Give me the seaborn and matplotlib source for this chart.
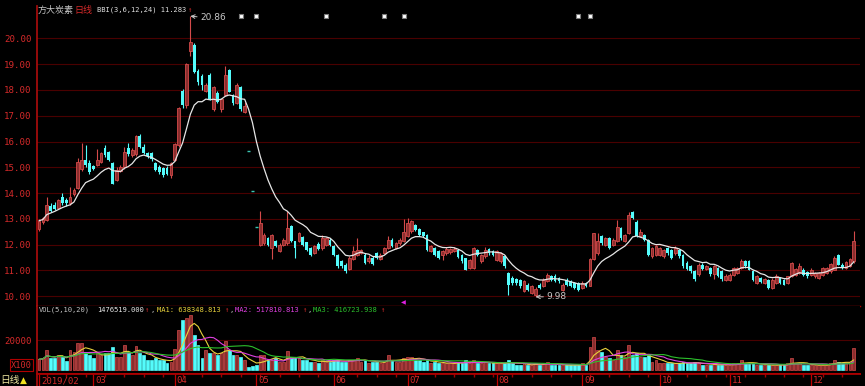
import numpy as np
import pandas as pd
import matplotlib
matplotlib.use('Agg')
import matplotlib.pyplot as plt
import seaborn as sns

# daily candles 2019/02 .. 2019/12
opens = [12.62, 12.88, 12.95, 13.50, 13.55, 13.42, 13.85, 13.72, 13.60, 13.95,
         14.20, 14.95, 15.28, 15.15, 15.05, 15.08, 15.20, 15.75, 15.60, 15.15,
         14.50, 14.85, 15.00, 15.75, 15.48, 15.50, 16.22, 15.80, 15.55, 15.55,
         15.15, 15.00, 14.98, 14.98, 14.70, 15.30, 15.85, 17.95, 17.40, 19.50,
         19.75, 18.75, 18.55, 17.95, 18.58, 17.25, 17.87, 17.25, 17.80, 18.77,
         17.80, 17.50, 18.12, 17.15, 15.64, 14.08, 12.67, 12.00, 12.06, 12.25,
         11.87, 12.13, 11.75, 12.00, 12.06, 12.73, 12.13, 12.13, 12.30, 12.09,
         11.87, 11.68, 12.04, 11.87, 12.00, 12.19, 11.94, 11.62, 11.36, 11.23,
         11.05, 11.43, 11.62, 11.68, 11.62, 11.36, 11.49, 11.68, 11.43, 11.68,
         11.87, 12.19, 11.87, 12.06, 12.13, 12.32, 12.52, 12.77, 12.60, 12.48,
         12.39, 11.74, 11.87, 11.74, 11.61, 11.68, 11.70, 11.74, 11.81, 11.61,
         11.48, 11.10, 11.10, 11.81, 11.35, 11.55, 11.83, 11.74, 11.42, 11.35,
         11.55, 10.90, 10.71, 10.67, 10.65, 10.19, 10.45, 10.13, 10.06, 10.45,
         10.39, 10.58, 10.78, 10.78, 10.71, 10.26, 10.65, 10.58, 10.52, 10.52,
         10.32, 10.53, 10.41, 11.43, 11.68, 12.32, 12.00, 12.25, 12.00, 12.13,
         12.64, 12.13, 12.45, 13.27, 12.89, 12.32, 12.38, 12.19, 11.55, 11.62,
         11.62, 11.55, 11.87, 11.81, 11.68, 11.81, 11.62, 11.30, 11.17, 10.98,
         10.85, 11.23, 11.04, 11.10, 10.85, 11.10, 10.98, 10.62, 10.62, 10.84,
         10.90, 11.10, 11.35, 11.35, 10.97, 10.52, 10.71, 10.52, 10.65, 10.32,
         10.52, 10.71, 10.65, 10.52, 10.77, 10.84, 10.90, 11.03, 10.93, 10.84,
         10.77, 10.71, 10.84, 10.90, 10.97, 11.03, 11.61, 11.23, 11.10, 11.16,
         11.35]
highs = [13.00, 13.08, 13.85, 13.60, 13.65, 13.78, 14.00, 13.80, 14.25, 14.20,
         15.35, 15.95, 15.85, 15.30, 15.10, 15.70, 15.60, 15.85, 15.65, 15.20,
         15.00, 15.10, 15.80, 15.95, 15.75, 16.25, 16.30, 15.90, 15.60, 15.60,
         15.20, 15.10, 15.00, 15.05, 15.20, 15.95, 17.35, 18.05, 19.05, 20.86,
         19.80, 18.80, 18.60, 18.25, 18.65, 18.15, 17.95, 17.70, 18.93, 18.80,
         17.85, 18.25, 18.15, 17.55, 15.64, 14.08, 12.67, 13.31, 12.45, 12.30,
         12.40, 12.20, 12.05, 12.25, 13.30, 12.75, 12.15, 12.50, 12.35, 12.10,
         11.90, 12.00, 12.10, 12.38, 12.30, 12.25, 11.97, 11.65, 11.40, 11.28,
         11.55, 11.94, 12.25, 11.85, 11.68, 11.60, 11.55, 11.72, 11.68, 11.90,
         12.32, 12.25, 12.10, 12.25, 12.98, 13.03, 12.95, 12.82, 12.65, 12.50,
         12.42, 12.00, 11.90, 11.78, 11.80, 11.90, 11.88, 11.90, 11.85, 11.65,
         11.50, 11.45, 11.92, 11.85, 11.65, 11.90, 11.88, 11.80, 11.80, 11.72,
         11.60, 10.95, 10.78, 10.70, 10.68, 10.62, 10.50, 10.45, 10.35, 10.50,
         10.70, 10.90, 10.82, 10.85, 10.75, 10.50, 10.70, 10.62, 10.55, 10.55,
         10.58, 10.55, 11.50, 12.47, 12.47, 12.38, 12.30, 12.30, 12.25, 12.96,
         12.70, 12.42, 13.27, 13.30, 12.95, 12.60, 12.42, 12.22, 11.90, 12.00,
         11.90, 11.85, 11.90, 11.85, 11.95, 11.85, 11.65, 11.35, 11.20, 11.00,
         11.28, 11.28, 11.22, 11.15, 11.20, 11.15, 11.00, 10.85, 10.90, 11.15,
         11.15, 11.45, 11.40, 11.40, 11.00, 10.82, 10.75, 10.70, 10.68, 10.70,
         10.85, 10.75, 10.68, 10.80, 11.32, 11.10, 11.30, 11.08, 10.98, 11.08,
         10.95, 10.95, 11.15, 11.15, 11.30, 11.55, 11.65, 11.28, 11.35, 11.50,
         12.52]
lows = [12.55, 12.80, 12.90, 13.25, 13.35, 13.38, 13.55, 13.50, 13.55, 13.90,
        14.15, 14.85, 15.00, 14.75, 14.88, 15.05, 15.15, 15.40, 15.25, 14.35,
        14.45, 14.80, 14.95, 15.45, 15.40, 15.45, 15.75, 15.50, 15.35, 15.25,
        14.85, 14.75, 14.62, 14.70, 14.60, 15.25, 15.80, 17.30, 17.30, 19.30,
        18.65, 18.20, 18.00, 17.90, 17.60, 17.20, 17.50, 17.15, 17.75, 17.90,
        17.40, 17.45, 17.20, 17.10, 15.64, 14.08, 12.67, 11.95, 12.00, 11.95,
        11.43, 11.90, 11.70, 11.95, 12.00, 12.10, 11.50, 12.10, 11.95, 11.75,
        11.55, 11.65, 11.80, 11.80, 11.95, 11.95, 11.58, 11.10, 11.10, 10.90,
        11.00, 11.40, 11.58, 11.65, 11.25, 11.30, 11.20, 11.45, 11.40, 11.65,
        11.85, 11.90, 11.85, 12.00, 12.10, 12.30, 12.45, 12.55, 12.35, 12.28,
        11.75, 11.70, 11.55, 11.45, 11.40, 11.62, 11.65, 11.70, 11.50, 11.30,
        11.00, 11.05, 11.05, 11.55, 11.30, 11.50, 11.62, 11.55, 11.38, 11.30,
        11.10, 10.06, 10.45, 10.45, 10.32, 10.15, 10.20, 10.10, 9.98, 10.28,
        10.35, 10.55, 10.60, 10.55, 10.52, 10.20, 10.40, 10.35, 10.28, 10.20,
        10.30, 10.35, 10.38, 11.40, 11.60, 12.00, 11.95, 11.82, 11.95, 12.10,
        12.20, 12.10, 12.40, 12.98, 12.28, 12.28, 12.15, 11.58, 11.50, 11.58,
        11.58, 11.50, 11.62, 11.45, 11.62, 11.50, 11.10, 11.00, 10.92, 10.60,
        10.80, 11.00, 11.00, 10.80, 10.66, 10.75, 10.60, 10.58, 10.58, 10.80,
        10.85, 11.05, 11.10, 11.00, 10.60, 10.48, 10.50, 10.48, 10.28, 10.28,
        10.48, 10.48, 10.42, 10.48, 10.75, 10.80, 10.85, 10.80, 10.72, 10.80,
        10.72, 10.68, 10.80, 10.85, 10.92, 11.00, 11.20, 11.05, 11.05, 11.12,
        11.30]
closes = [12.93, 13.02, 13.55, 13.32, 13.40, 13.72, 13.62, 13.62, 13.85, 14.12,
          15.20, 15.30, 15.10, 14.82, 14.95, 15.30, 15.55, 15.48, 15.30, 14.37,
          14.90, 15.00, 15.60, 15.50, 15.68, 16.20, 15.80, 15.55, 15.42, 15.32,
          14.90, 14.80, 14.70, 14.75, 15.15, 15.90, 17.30, 17.40, 19.00, 19.87,
          18.70, 18.30, 18.20, 18.20, 17.62, 18.10, 17.55, 17.65, 18.58, 17.93,
          17.48, 18.20, 17.25, 17.38, 15.64, 14.08, 12.67, 12.83, 12.38, 12.00,
          12.38, 11.94, 12.00, 12.19, 12.64, 12.13, 11.87, 12.45, 12.00, 11.80,
          11.62, 11.94, 11.83, 12.25, 12.25, 12.00, 11.62, 11.17, 11.17, 10.98,
          11.50, 11.75, 11.81, 11.81, 11.30, 11.49, 11.24, 11.49, 11.62, 11.87,
          12.19, 11.94, 12.06, 12.19, 12.50, 12.84, 12.90, 12.58, 12.39, 12.32,
          11.81, 11.94, 11.61, 11.48, 11.74, 11.83, 11.83, 11.83, 11.52, 11.35,
          11.03, 11.42, 11.87, 11.61, 11.61, 11.81, 11.68, 11.61, 11.74, 11.68,
          11.16, 10.45, 10.52, 10.52, 10.39, 10.58, 10.26, 10.39, 10.28, 10.32,
          10.65, 10.84, 10.65, 10.58, 10.58, 10.45, 10.45, 10.39, 10.32, 10.26,
          10.52, 10.41, 11.43, 12.45, 12.13, 12.06, 12.25, 11.87, 12.19, 12.70,
          12.25, 12.38, 13.15, 13.02, 12.32, 12.51, 12.19, 11.62, 11.87, 11.94,
          11.87, 11.81, 11.68, 11.49, 11.87, 11.55, 11.17, 11.04, 10.98, 10.66,
          11.23, 11.04, 11.17, 10.85, 11.17, 10.79, 10.66, 10.80, 10.84, 11.10,
          11.10, 11.35, 11.16, 11.03, 10.65, 10.77, 10.54, 10.67, 10.32, 10.65,
          10.80, 10.52, 10.45, 10.77, 11.29, 11.06, 11.16, 10.84, 10.77, 11.03,
          10.90, 10.90, 11.10, 11.10, 11.26, 11.48, 11.23, 11.10, 11.32, 11.45,
          12.13]
# volume, axis unit x100
volumes = [7100, 7800, 13300, 7800, 7800, 10000, 8900, 6200, 13300, 12200,
           18200, 18200, 12200, 10000, 7800, 11100, 10000, 11100, 11100, 15600,
           8900, 8900, 16700, 12200, 10000, 16000, 11100, 10000, 6700, 6700,
           7800, 6700, 6700, 4400, 5600, 13800, 27000, 33300, 35000, 36700,
           23300, 16700, 7800, 13300, 11100, 11100, 10000, 11100, 19600, 13300,
           10000, 10000, 8900, 6700, 2200, 2600, 3000, 10000, 10000, 6700,
           6700, 7800, 5600, 5600, 12700, 8900, 7800, 7800, 6700, 6700,
           5600, 5600, 4400, 6700, 5600, 5600, 6700, 6700, 5600, 5600,
           6700, 6700, 7800, 5600, 6700, 4400, 5600, 5600, 4400, 5600,
           10000, 6700, 5600, 5600, 7800, 8900, 8900, 6700, 6700, 5600,
           6700, 4400, 5600, 4400, 4400, 4400, 4400, 4400, 5600, 4400,
           6700, 4400, 6700, 4400, 4400, 5600, 4400, 4400, 4400, 4400,
           4400, 6700, 4400, 3300, 3300, 4400, 3300, 3300, 4400, 3300,
           4400, 5600, 3300, 3300, 3300, 3300, 3300, 3300, 3300, 3300,
           4400, 3300, 15600, 22200, 13300, 12200, 8900, 7800, 6700, 13300,
           10000, 8900, 16700, 10000, 11100, 8900, 8900, 10000, 5600, 6700,
           4400, 4400, 4400, 4400, 4400, 4400, 5600, 4400, 4400, 5600,
           4400, 3300, 3300, 3300, 4400, 3300, 3300, 3300, 3300, 4400,
           4400, 6700, 4400, 4400, 4400, 3300, 3300, 3300, 3300, 3300,
           3300, 3300, 3300, 4400, 7800, 4400, 4400, 3300, 3300, 3300,
           3300, 3300, 3300, 3300, 4400, 6700, 5600, 4400, 4400, 4400,
           14765]

month_start = [0, 14, 35, 56, 76, 95, 118, 140, 160, 178, 199]
month_labels = ['2019/02', '03', '04', '05', '06', '07', '08', '09', '10', '11', '12']
signal_days = [52, 56, 74, 89, 94, 139, 142]
price_ticks = [10, 11, 12, 13, 14, 15, 16, 17, 18, 19, 20]

RED = '#d42a2a'
UP_FACE = '#8a2e2e'
UP_EDGE = '#d44a4a'
CYAN = '#54fcfc'
GRID = '#4a0000'
AXIS = '#a80c0c'
CJK = ['Noto Sans CJK SC', 'DejaVu Sans']

sns.set_theme(style='dark', rc={'axes.facecolor': 'black', 'figure.facecolor': 'black',
                                'axes.edgecolor': AXIS, 'axes.grid': False})
plt.rcParams['font.family'] = ['DejaVu Sans Mono', 'Noto Sans CJK SC']

W, H = 865, 386


def fx(px):
    return px / W


def fy(py):
    return 1 - py / H


o = np.array(opens)
h = np.array(highs)
l = np.array(lows)
c = np.array(closes)
v = np.array(volumes)
x = np.arange(len(c))
up = c > o
dn = c < o
flat = c == o

fig = plt.figure(figsize=(8.65, 3.86), dpi=100)
ax = fig.add_axes([fx(37), fy(306), fx(860) - fx(37), 300 / H])
axv = fig.add_axes([fx(37), fy(374), fx(860) - fx(37), 68 / H])
axd = fig.add_axes([fx(37), 0, fx(860) - fx(37), 12 / H])
xlim = (-0.52, 211.6)

# ---- price panel
for p in price_ticks:
    ax.axhline(p, color=GRID, lw=0.8, zorder=0)
ax.vlines(x[up], l[up], h[up], color=UP_EDGE, lw=0.8, zorder=2)
ax.vlines(x[dn], l[dn], h[dn], color=CYAN, lw=0.8, zorder=2)
ax.bar(x[up], c[up] - o[up], bottom=o[up], width=0.72, color=UP_FACE,
       edgecolor=UP_EDGE, linewidth=0.6, zorder=3)
ax.bar(x[dn], o[dn] - c[dn], bottom=c[dn], width=0.72, color=CYAN, linewidth=0, zorder=3)
ax.hlines(c[flat], x[flat] - 0.4, x[flat] + 0.4, color='#3cc8b4', lw=1.0, zorder=3)

s = pd.Series(c)
bbi = (s.rolling(3, 1).mean() + s.rolling(6, 1).mean()
       + s.rolling(12, 1).mean() + s.rolling(24, 1).mean()) / 4
sns.lineplot(x=x, y=bbi.values, ax=ax, color='#e6e6e6', lw=0.9, zorder=4)

ax.scatter(signal_days, [0.967] * len(signal_days), transform=ax.get_xaxis_transform(),
           marker='s', s=5, c='white', edgecolors='#7a7a7a', linewidths=0.8, zorder=5)

imax = int(np.argmax(h))
imin = int(np.argmin(l))
ann = dict(color='#c8c8c8', fontsize=6.5, va='center', ha='left', family='DejaVu Sans',
           textcoords='offset pixels')
ax.annotate(f'{h[imax]:.2f}', xy=(imax, h[imax]), xytext=(10, -1),
            arrowprops=dict(arrowstyle='->', color='#c8c8c8', lw=0.7,
                            shrinkA=0, shrinkB=0, relpos=(0, 0.5)), **ann)
ax.annotate(f'{l[imin]:.2f}', xy=(imin, l[imin]), xytext=(11, 0),
            arrowprops=dict(arrowstyle='->', color='#c8c8c8', lw=0.7,
                            shrinkA=0, shrinkB=0, relpos=(0, 0.5)), **ann)

ax.set_xlim(xlim)
ax.set_ylim(9.624, 21.252)
ax.set_xticks([])
ax.set_yticks(price_ticks)
ax.set_yticklabels([f'{p:.2f}' for p in price_ticks])
ax.tick_params(axis='y', length=3, width=0.8, color=AXIS, pad=1, labelsize=6.6, labelcolor=RED)
for side in ['top', 'right']:
    ax.spines[side].set_visible(False)
ax.spines['left'].set_color(AXIS)
ax.spines['bottom'].set_color('#b00000')
ax.spines['bottom'].set_linewidth(1.0)

# ---- volume panel
vcol = np.where(up, UP_FACE, CYAN)
vedge = np.where(up, UP_EDGE, CYAN)
axv.axhline(20000, color=GRID, lw=0.8, zorder=0)
axv.bar(x, v, width=0.72, color=vcol, edgecolor=vedge, linewidth=0.5, zorder=2)
vs = pd.Series(v.astype(float))
for n, col in [(5, '#e8d23c'), (10, '#e040e0'), (20, '#2cc02c')]:
    sns.lineplot(x=x, y=vs.rolling(n, 1).mean().values, ax=axv, color=col, lw=0.8, zorder=3)
axv.set_xlim(xlim)
axv.set_ylim(-2667, 42667)
axv.set_xticks([])
axv.set_yticks([20000])
axv.set_yticklabels(['20000'])
axv.tick_params(axis='y', length=3, width=0.8, color=AXIS, pad=1, labelsize=6.6, labelcolor=RED)
for side in ['top', 'right']:
    axv.spines[side].set_visible(False)
axv.spines['left'].set_color(AXIS)
axv.spines['bottom'].set_color('#b00000')

# ---- date strip
axd.set_xlim(xlim)
axd.set_ylim(0, 1)
axd.vlines(month_start, 0, 1, color='#c00000', lw=0.9)
for i, lab in zip(month_start, month_labels):
    axd.text(i + 0.5, 0.45, lab, color=RED, fontsize=6.5, va='center', ha='left')
axd.set_xticks(np.arange(2, 211, 5), minor=True)
axd.set_xticks([])
axd.set_yticks([])
axd.tick_params(axis='x', which='minor', direction='in', top=True, bottom=False,
                length=2, color='#a00000')
for side in ['bottom', 'right']:
    axd.spines[side].set_visible(False)
axd.spines['top'].set_color('#b00000')
axd.spines['left'].set_color(AXIS)

# ---- header texts
ty = fy(10)
fig.text(fx(38), ty, '方大炭素', color='#c4c4c4', fontsize=6.5, family=CJK, va='center')
fig.text(fx(74), ty, '日线', color=RED, fontsize=6.5, family=CJK, va='center')
fig.text(fx(97), ty, 'BBI(3,6,12,24) 11.283', color='#e0e0e0', fontsize=5.1, va='center')
fig.text(fx(188), ty, '↑', color=RED, fontsize=5.1, va='center')

vy = fy(310)
pieces = [(39, 'VOL(5,10,20)', '#c4c4c4'), (97, '1476519.000', '#e8e8e8'), (145.5, '↑', RED),
          (151, ',', '#c4c4c4'), (157, 'MA1: 638348.813', '#e8d23c'), (224.5, '↑', RED),
          (230, ',', '#c4c4c4'), (235, 'MA2: 517810.813', '#e040e0'), (302.5, '↑', RED),
          (308, ',', '#c4c4c4'), (313, 'MA3: 416723.938', '#2cc02c'), (381, '↑', RED)]
for px, txt, col in pieces:
    fig.text(fx(px), vy, txt, color=col, fontsize=5.1, va='center')

fig.text(fx(403), fy(303), '◀', color='#e020e0', fontsize=4.5, va='center', ha='center',
         family='DejaVu Sans')
fig.text(fx(11), fy(365), 'X100', color=RED, fontsize=6.2, va='center', ha='left',
         bbox=dict(boxstyle='square,pad=0.15', fc='black', ec='#b00000', lw=0.8))
fig.text(fx(0), fy(380), '日线', color='#f0e8a0', fontsize=7, family=CJK, va='center')
fig.text(fx(20), fy(380), '▲', color='#f0e020', fontsize=6.5, family='DejaVu Sans', va='center')

fig.savefig('out.png', dpi=100, facecolor='black')
